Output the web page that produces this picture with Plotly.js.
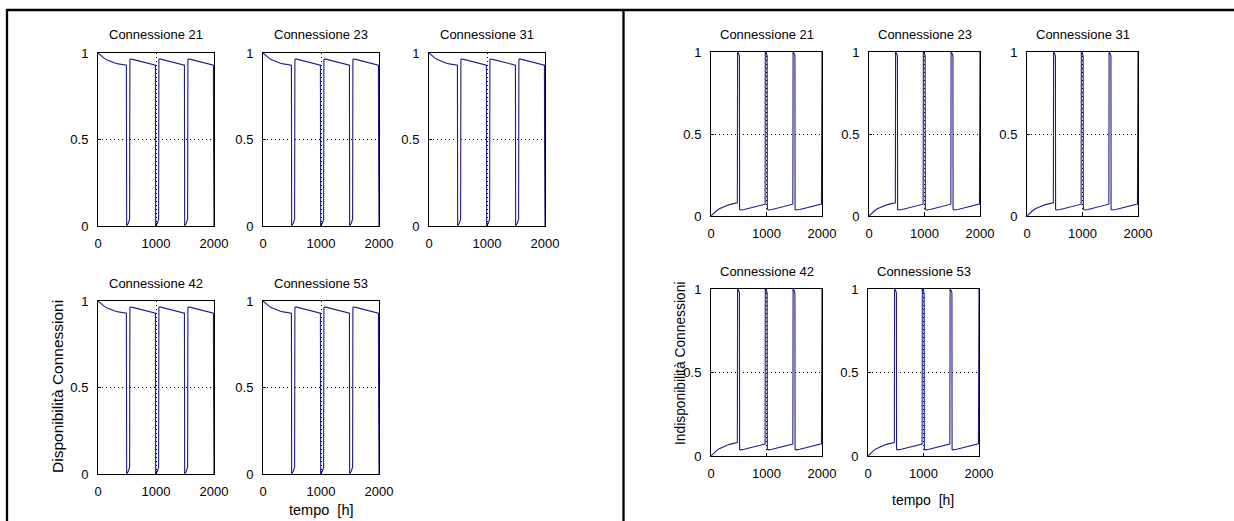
<!DOCTYPE html>
<html><head><meta charset="utf-8">
<script src="https://cdn.plot.ly/plotly-3.0.1.min.js"></script>
<style>html,body{margin:0;padding:0;background:#fff;overflow:hidden}#chart{width:1234px;height:521px}</style>
</head><body><div id="chart"></div>
<script>
// ---- data ----
const connections = ['Connessione 21', 'Connessione 23', 'Connessione 31', 'Connessione 42', 'Connessione 53'];
const xTicks = [0, 1000, 2000];
const xTickText = ['0', '1000', '2000'];
const yTicks = [0, 0.5, 1];
const yTickText = ['0', '0.5', '1'];
const leftYLabel = 'Disponibilità Connessioni';
const rightYLabel = 'Indisponibilità Connessioni';
const xLabel = 'tempo  [h]';

// availability (left panel), same for every connection
const tDisp = [0, 50, 100, 150, 200, 250, 300, 350, 400, 450, 490, 492, 494, 520, 545, 550, 560, 600, 700, 800, 900, 990, 992, 994, 1020, 1045, 1050, 1060, 1100, 1200, 1300, 1400, 1490, 1492, 1494, 1520, 1545, 1550, 1560, 1600, 1700, 1800, 1900, 1990, 1993, 2000];
const disp = [1, 0.985, 0.972, 0.961, 0.953, 0.946, 0.941, 0.937, 0.934, 0.931, 0.929, 0.47, 0, 0.015, 0.04, 0.962, 0.965, 0.963, 0.955, 0.947, 0.939, 0.93, 0.47, 0, 0.015, 0.04, 0.962, 0.965, 0.963, 0.955, 0.947, 0.939, 0.93, 0.47, 0, 0.015, 0.04, 0.962, 0.965, 0.963, 0.955, 0.947, 0.939, 0.93, 0.47, 0];

// unavailability (right panel), same for every connection
const tIndisp = [0, 50, 100, 150, 200, 250, 300, 350, 400, 450, 475, 477, 479, 500, 512, 515, 530, 600, 700, 800, 900, 975, 977, 979, 1000, 1012, 1015, 1030, 1100, 1200, 1300, 1400, 1475, 1477, 1479, 1500, 1512, 1515, 1530, 1600, 1700, 1800, 1900, 1990, 1995, 2000];
const indisp = [0, 0.018, 0.032, 0.044, 0.053, 0.06, 0.066, 0.071, 0.075, 0.078, 0.08, 0.53, 1, 0.99, 0.975, 0.04, 0.037, 0.04, 0.048, 0.056, 0.064, 0.072, 0.53, 1, 0.99, 0.975, 0.04, 0.037, 0.04, 0.048, 0.056, 0.064, 0.072, 0.53, 1, 0.99, 0.975, 0.04, 0.037, 0.04, 0.048, 0.056, 0.064, 0.073, 0.53, 1];

// ---- layout geometry (pixels) ----
const W = 1234, H = 521;
const FONT = '"Liberation Sans", Arial, Helvetica, sans-serif';
const LINE = '#1c1c84';
const leftBoxes = [[98, 214, 53, 226], [263, 379, 53, 226], [429, 545, 53, 226], [98, 214, 301, 474], [263, 379, 301, 474]];
const rightBoxes = [[711, 822, 52, 216], [869, 980, 52, 216], [1027, 1138, 52, 216], [711, 822, 289, 456], [868, 979, 289, 456]];

const px = x => x / W;
const py = y => 1 - y / H;

const data = [];
const layout = {
  width: W, height: H, margin: {l: 0, r: 0, t: 0, b: 0},
  paper_bgcolor: '#fff', plot_bgcolor: '#fff', showlegend: false,
  font: {family: FONT, color: '#000', size: 13},
  annotations: [], shapes: []
};

const panels = [
  {boxes: leftBoxes, t: tDisp, v: disp, titleGap: 18},
  {boxes: rightBoxes, t: tIndisp, v: indisp, titleGap: 18}
];

let n = 0;
panels.forEach(p => {
  p.boxes.forEach((b, i) => {
    n++;
    const xa = 'xaxis' + (n === 1 ? '' : n), ya = 'yaxis' + (n === 1 ? '' : n);
    const xr = 'x' + (n === 1 ? '' : n), yr = 'y' + (n === 1 ? '' : n);
    data.push({x: p.t, y: p.v, type: 'scatter', mode: 'lines', xaxis: xr, yaxis: yr,
      line: {color: LINE, width: 1.1}, hoverinfo: 'skip'});
    const common = {showgrid: true, gridcolor: '#000', griddash: '1px,3px', gridwidth: 1,
      showline: true, mirror: true, linecolor: '#000', linewidth: 1,
      ticks: 'inside', ticklen: 3, tickcolor: '#000', zeroline: false, automargin: false,
      fixedrange: true, tickfont: {family: FONT, size: 13, color: '#000'}};
    layout[xa] = Object.assign({}, common, {domain: [px(b[0]), px(b[1])], range: [0, 2000],
      tickmode: 'array', tickvals: xTicks, ticktext: xTickText, anchor: yr, ticklabelstandoff: 5});
    layout[ya] = Object.assign({}, common, {domain: [py(b[3]), py(b[2])], range: [0, 1],
      tickmode: 'array', tickvals: yTicks, ticktext: yTickText, anchor: xr, ticklabelstandoff: 6});
    layout.annotations.push({text: connections[i], xref: 'paper', yref: 'paper',
      x: px((b[0] + b[1]) / 2), y: py(b[2] - p.titleGap), xanchor: 'center', yanchor: 'middle',
      showarrow: false, font: {family: FONT, size: 13, color: '#000'}});
  });
});

// axis labels
layout.annotations.push({text: leftYLabel, xref: 'paper', yref: 'paper', x: px(57), y: py(387),
  xanchor: 'center', yanchor: 'middle', textangle: -90, showarrow: false, font: {family: FONT, size: 15.5}});
layout.annotations.push({text: rightYLabel, xref: 'paper', yref: 'paper', x: px(680), y: py(364),
  xanchor: 'center', yanchor: 'middle', textangle: -90, showarrow: false, font: {family: FONT, size: 13.8}});
layout.annotations.push({text: xLabel, xref: 'paper', yref: 'paper', x: px(321), y: py(510),
  xanchor: 'center', yanchor: 'middle', showarrow: false, font: {family: FONT, size: 14.5}});
layout.annotations.push({text: xLabel, xref: 'paper', yref: 'paper', x: px(923), y: py(500),
  xanchor: 'center', yanchor: 'middle', showarrow: false, font: {family: FONT, size: 14}});

// table borders
const border = {type: 'line', xref: 'paper', yref: 'paper', line: {color: '#000', width: 2.3}, layer: 'above'};
layout.shapes.push(Object.assign({}, border, {x0: px(7), x1: px(1234), y0: py(10), y1: py(10)}));
layout.shapes.push(Object.assign({}, border, {x0: px(7), x1: px(7), y0: py(9), y1: py(521)}));
layout.shapes.push(Object.assign({}, border, {x0: px(623.5), x1: px(623.5), y0: py(10), y1: py(521)}));

Plotly.newPlot('chart', data, layout, {staticPlot: true, displayModeBar: false});
</script>
</body></html>
